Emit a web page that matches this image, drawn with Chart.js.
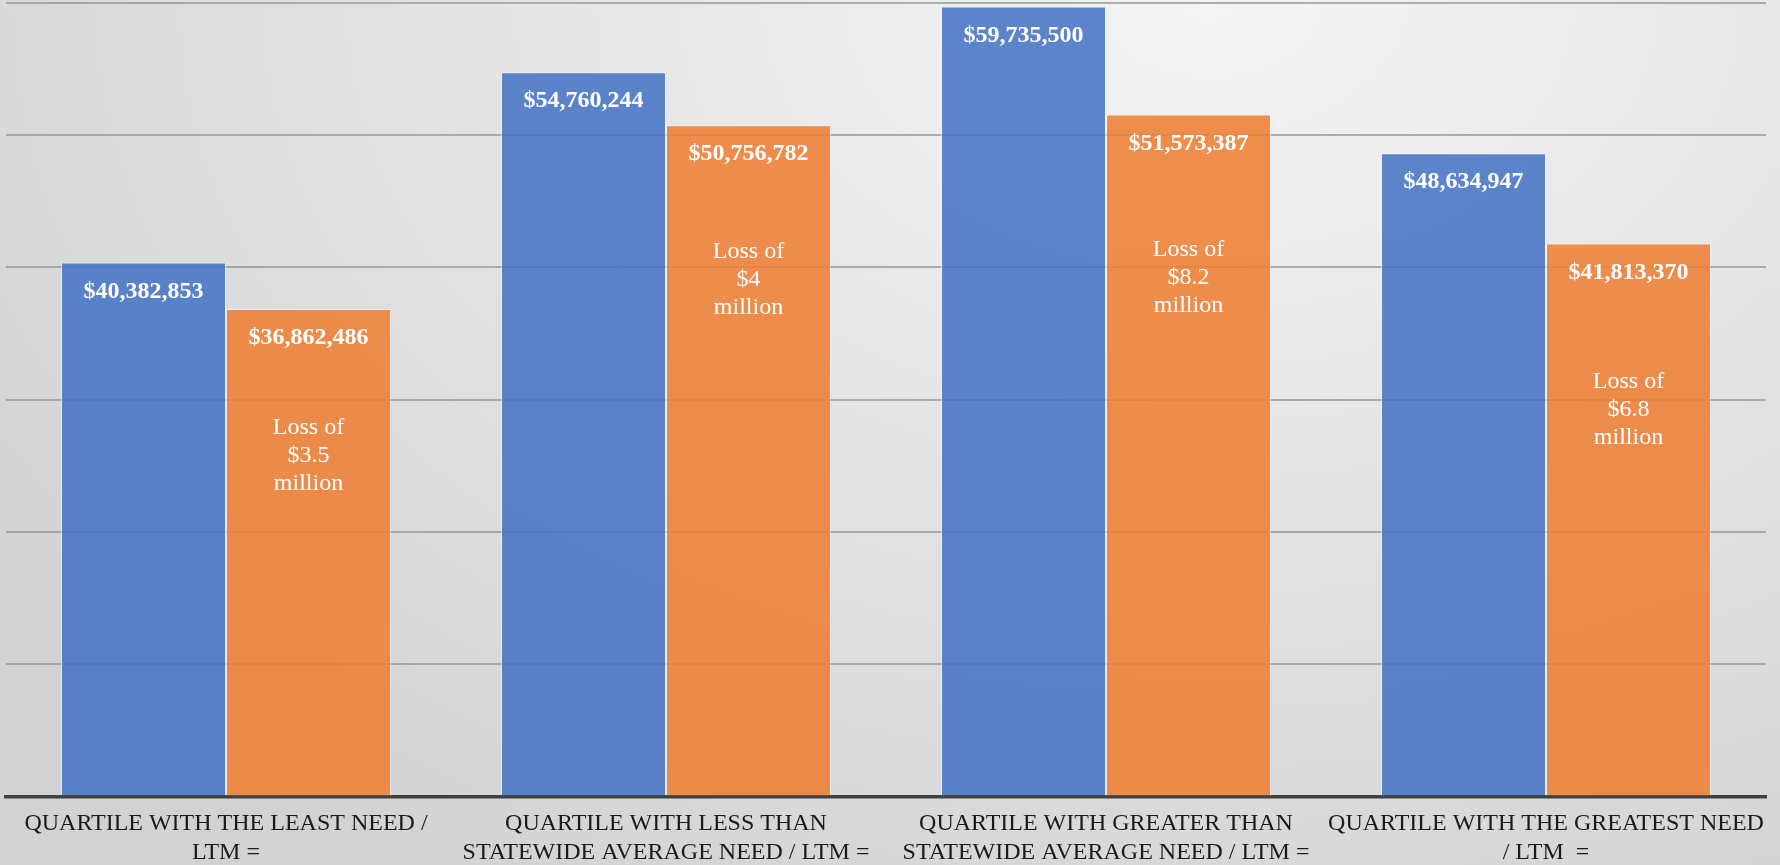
<!DOCTYPE html>
<html>
<head>
<meta charset="utf-8">
<script src="https://cdn.jsdelivr.net/npm/chart.js@4.4.1/dist/chart.umd.min.js"></script>
<style>
  html, body { margin: 0; padding: 0; }
  body {
    width: 1780px; height: 865px; overflow: hidden;
    background: radial-gradient(ellipse 85% 120% at 68% 0%, #f4f4f4 0%, #e3e3e3 50%, #d2d2d2 100%);
  }
  #wrap { position: relative; width: 1780px; height: 865px; }
</style>
</head>
<body>
<div id="wrap"><canvas id="c"></canvas></div>
<script>
// ---- data ----
const categories = [
  ["QUARTILE WITH THE LEAST NEED /", "LTM ="],
  ["QUARTILE WITH LESS THAN", "STATEWIDE AVERAGE NEED / LTM ="],
  ["QUARTILE WITH GREATER THAN", "STATEWIDE AVERAGE NEED / LTM ="],
  ["QUARTILE WITH THE GREATEST NEED", "/ LTM  ="]
];
const seriesBefore = [40382853, 54760244, 59735500, 48634947];
const seriesAfter  = [36862486, 50756782, 51573387, 41813370];
const lossNotes = [
  ["Loss of", "$3.5", "million"],
  ["Loss of", "$4", "million"],
  ["Loss of", "$8.2", "million"],
  ["Loss of", "$6.8", "million"]
];
// value (in y-axis units) at which each loss note is centred
const lossNoteAt = [25800000, 39100000, 39200000, 29250000];
const yMin = 0, yMax = 60000000, yStep = 10000000;

const fmt = v => '$' + v.toLocaleString('en-US');

const labelPlugin = {
  id: 'labels',
  afterDatasetsDraw(chart) {
    const ctx = chart.ctx;
    ctx.save();
    ctx.fillStyle = '#ffffff';
    ctx.textAlign = 'center';
    ctx.textBaseline = 'middle';
    ctx.font = 'bold 24px "Liberation Serif", "Times New Roman", serif';
    chart.data.datasets.forEach((ds, di) => {
      const meta = chart.getDatasetMeta(di);
      meta.data.forEach((bar, i) => {
        ctx.fillText(fmt(ds.data[i]), bar.x, bar.y + 29);
      });
    });
    ctx.font = '24px "Liberation Serif", "Times New Roman", serif';
    const meta = chart.getDatasetMeta(1);
    const ys = chart.scales.y;
    meta.data.forEach((bar, i) => {
      const cy = ys.getPixelForValue(lossNoteAt[i]);
      const lines = lossNotes[i];
      lines.forEach((t, k) => {
        ctx.fillText(t, bar.x, cy + (k - (lines.length - 1) / 2) * 28);
      });
    });
    ctx.restore();
  }
};

new Chart(document.getElementById('c'), {
  type: 'bar',
  data: {
    labels: categories,
    datasets: [
      {
        label: 'Before',
        data: seriesBefore,
        backgroundColor: 'rgba(68,114,196,0.86)',
        borderColor: 'rgba(255,255,255,0.45)',
        borderWidth: 1
      },
      {
        label: 'After',
        data: seriesAfter,
        backgroundColor: 'rgba(237,125,49,0.86)',
        borderColor: 'rgba(255,255,255,0.45)',
        borderWidth: 1
      }
    ]
  },
  options: {
    responsive: true,
    maintainAspectRatio: false,
    animation: false,
    layout: { padding: { top: 3, left: 6, right: 14, bottom: -15 } },
    datasets: { bar: { categoryPercentage: 0.75, barPercentage: 1.0 } },
    plugins: {
      legend: { display: false },
      tooltip: { enabled: false }
    },
    scales: {
      x: {
        grid: { display: false, drawTicks: false },
        border: { display: true, color: '#404040', width: 3.5 },
        ticks: {
          color: '#1a1a1a',
          padding: 13,
          maxRotation: 0,
          autoSkip: false,
          font: { family: '"Liberation Serif", "Times New Roman", serif', size: 24, lineHeight: 1.2 }
        }
      },
      y: {
        min: yMin,
        max: yMax,
        ticks: { display: false, stepSize: yStep },
        grid: { color: 'rgba(150,150,150,0.75)', lineWidth: 2, drawTicks: false },
        border: { display: false }
      }
    }
  },
  plugins: [labelPlugin]
});
</script>
</body>
</html>
